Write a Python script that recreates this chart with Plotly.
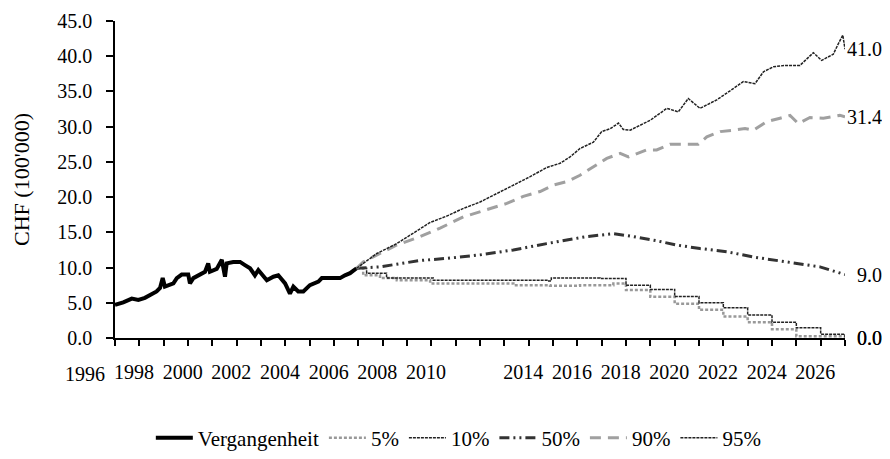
import plotly.graph_objects as go

# Historische Entwicklung (Jahr als Dezimalzahl, Wert in CHF 100'000)
hist_jahr = [1997.22, 1997.56, 1997.91, 1998.18, 1998.45, 1998.73, 1998.93, 1999.07, 1999.18,
             1999.27, 1999.48, 1999.62, 1999.76, 1999.96, 2000.23, 2000.30, 2000.44, 2000.64,
             2000.92, 2001.05, 2001.12, 2001.40, 2001.61, 2001.74, 2001.81, 2002.08, 2002.36,
             2002.56, 2002.77, 2002.97, 2003.11, 2003.46, 2003.73, 2003.93, 2004.21, 2004.41,
             2004.55, 2004.75, 2004.96, 2005.23, 2005.58, 2005.72, 2006.06, 2006.47, 2006.67,
             2006.88, 2007.15]
hist_wert = [4.7, 5.06, 5.6, 5.4, 5.7, 6.3, 6.6, 7.1, 8.5,
             7.3, 7.5, 7.75, 8.5, 9.0, 9.0, 7.75, 8.5, 8.9,
             9.4, 10.6, 9.4, 9.8, 11.1, 8.7, 10.6, 10.8, 10.8,
             10.35, 9.9, 8.9, 9.65, 8.2, 8.7, 8.9, 7.75, 6.3,
             7.3, 6.6, 6.6, 7.5, 8.0, 8.5, 8.5, 8.5, 8.9,
             9.2, 9.9]

# Quantile der Simulation
p95_jahr = [2007.15, 2007.98, 2008.80, 2009.69, 2010.17, 2010.85, 2011.54, 2012.22, 2012.91,
            2013.59, 2014.28, 2014.96, 2015.51, 2015.92, 2016.33, 2016.88, 2017.22, 2017.57,
            2017.91, 2018.11, 2018.39, 2019.21, 2019.90, 2020.37, 2020.78, 2021.26, 2021.95,
            2022.63, 2023.04, 2023.52, 2023.87, 2024.28, 2024.76, 2025.37, 2025.92, 2026.26,
            2026.74, 2026.95, 2027.13, 2027.22]
p95_wert = [9.9, 12.0, 13.4, 15.3, 16.4, 17.3, 18.4, 19.3, 20.5,
            21.7, 22.9, 24.2, 24.8, 25.7, 26.9, 27.8, 29.3, 29.7,
            30.5, 29.6, 29.5, 30.9, 32.6, 32.1, 34.0, 32.6, 33.8,
            35.4, 36.4, 36.1, 37.8, 38.5, 38.7, 38.7, 40.5, 39.4,
            40.3, 41.8, 43.0, 41.0]

p90_jahr = [2007.15, 2007.42, 2008.11, 2008.80, 2009.76, 2010.58, 2011.54, 2012.50, 2013.32,
            2014.00, 2014.69, 2015.23, 2015.79, 2016.33, 2016.88, 2017.43, 2017.98, 2018.32,
            2019.07, 2019.48, 2020.03, 2021.19, 2021.54, 2022.09, 2022.63, 2023.11, 2023.45,
            2024.00, 2024.55, 2024.96, 2025.30, 2025.78, 2026.33, 2027.01, 2027.22]
p90_wert = [9.9, 10.8, 12.0, 13.2, 14.4, 15.6, 17.2, 18.2, 19.1,
            20.1, 20.8, 21.7, 22.2, 23.1, 24.3, 25.5, 26.2, 25.7,
            26.7, 26.7, 27.5, 27.5, 28.55, 29.3, 29.5, 29.75, 29.5,
            30.7, 31.2, 31.6, 30.45, 31.3, 31.2, 31.6, 31.4]

p50_jahr = [2007.15, 2008.11, 2009.76, 2010.85, 2012.22, 2013.59, 2014.96, 2016.60, 2017.70,
            2018.52, 2019.48, 2020.30, 2021.26, 2022.36, 2023.45, 2024.28, 2025.37, 2026.19,
            2027.22]
p50_wert = [9.9, 10.1, 11.0, 11.3, 11.8, 12.5, 13.4, 14.4, 14.8,
            14.4, 13.8, 13.2, 12.7, 12.25, 11.5, 11.1, 10.6, 10.1,
            9.0]

p10_jahr = [2007.15, 2007.56, 2008.38, 2010.30, 2011.81, 2015.00, 2015.15, 2017.15, 2018.22,
            2019.22, 2020.22, 2021.22, 2022.22, 2023.22, 2024.22, 2025.22, 2026.22, 2027.22]
p10_wert = [9.9, 9.2, 8.5, 8.2, 8.2, 8.1, 8.5, 8.45, 7.5,
            6.9, 5.9, 5.0, 4.3, 3.26, 2.25, 1.45, 0.55, 0.0]

p05_jahr = [2007.15, 2007.42, 2008.11, 2008.80, 2010.17, 2011.67, 2013.59, 2015.10, 2016.33,
            2017.70, 2018.22, 2019.22, 2020.22, 2021.22, 2022.22, 2023.22, 2024.22, 2025.22,
            2027.22]
p05_wert = [9.9, 8.9, 8.5, 8.2, 7.75, 7.75, 7.5, 7.4, 7.5,
            7.75, 6.8, 5.86, 4.85, 4.0, 3.05, 2.25, 1.25, 0.25,
            0.0]

jahr_labels = [1998, 2000, 2002, 2004, 2006, 2008, 2010, 2014, 2016, 2018, 2020, 2022, 2024, 2026]
x_start, x_ende = 1997.22, 2027.22

fig = go.Figure()

fig.add_trace(go.Scatter(x=hist_jahr, y=hist_wert, name="Vergangenheit", mode="lines",
                         line=dict(color="black", width=4)))
fig.add_trace(go.Scatter(x=p05_jahr, y=p05_wert, name="5%", mode="lines", line_shape="hv",
                         line=dict(color="#999999", width=2.5, dash="3px,2px")))
fig.add_trace(go.Scatter(x=p10_jahr, y=p10_wert, name="10%", mode="lines", line_shape="hv",
                         line=dict(color="#222222", width=1.5, dash="3px,1px")))
fig.add_trace(go.Scatter(x=p50_jahr, y=p50_wert, name="50%", mode="lines",
                         line=dict(color="#333333", width=3, dash="10px,4px,2px,4px,2px,4px")))
fig.add_trace(go.Scatter(x=p90_jahr, y=p90_wert, name="90%", mode="lines",
                         line=dict(color="#a0a0a0", width=3, dash="11px,7px")))
fig.add_trace(go.Scatter(x=p95_jahr, y=p95_wert, name="95%", mode="lines",
                         line=dict(color="#222222", width=1.5, dash="3px,1px")))

# Endwerte rechts neben den Linien, rechtsbündig am Bildrand
x_rand = 1 + 39 / 730
for wert in [p95_wert[-1], p90_wert[-1], p50_wert[-1], p10_wert[-1], p05_wert[-1]]:
    fig.add_annotation(x=x_rand, xref="paper", y=wert, yref="y", text=f"{wert:.1f}",
                       showarrow=False, xanchor="right")

# "1996" liegt links vom Achsenbeginn
fig.add_annotation(x=(1996 - x_start) / (x_ende - x_start), xref="paper", y=0, yref="paper",
                   text="1996", showarrow=False, xanchor="center", yanchor="top", yshift=-23)

fig.update_xaxes(
    range=[x_start, x_ende], automargin=False,
    tickmode="array", tickvals=jahr_labels, ticktext=[str(j) for j in jahr_labels],
    ticks="", ticklabelstandoff=15,
    minor=dict(tickmode="linear", tick0=x_start, dtick=1, ticks="outside",
               ticklen=6, tickwidth=1.5, tickcolor="black", showgrid=False),
    showline=True, linecolor="black", linewidth=1.5,
    showgrid=False, zeroline=False,
)
fig.update_yaxes(
    range=[0, 45], automargin=False, tickmode="linear", tick0=0, dtick=5, tickformat=".1f",
    ticks="outside", ticklen=7, tickwidth=1.5, tickcolor="black", ticklabelstandoff=10,
    showline=True, linecolor="black", linewidth=1.5,
    showgrid=False, zeroline=False,
    title=dict(text="CHF (100'000)", font=dict(size=22), standoff=22),
)

# Die Seite hat 8px Rand: Figur entsprechend kleiner, damit der Plotbereich bei 115/21 liegt
fig.update_layout(
    width=882, height=451,
    margin=dict(l=107, r=45, t=13, b=121),
    paper_bgcolor="white", plot_bgcolor="white",
    font=dict(family="Liberation Serif", size=20, color="black"),
    showlegend=True,
    legend=dict(orientation="h", x=0.471, xanchor="center",
                yref="container", y=1 - 430 / 451, yanchor="middle",
                itemwidth=37, font=dict(size=21)),
)

fig.write_html("out.html")
